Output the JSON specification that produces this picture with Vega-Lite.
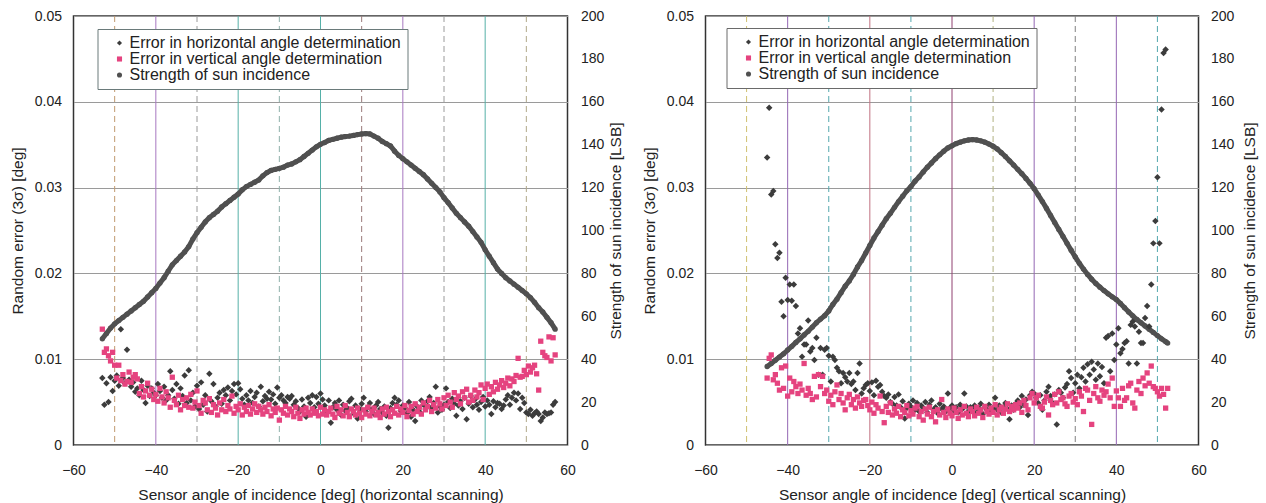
{
"$schema": "https://vega.github.io/schema/vega-lite/v6.json",
"background": "white",
"padding": {"left": 9.5, "top": 8, "right": 10.5, "bottom": 1.5},
"spacing": 16,
"config": {
 "font": "Liberation Sans",
 "view": {"stroke": "#333", "strokeWidth": 1.5},
 "axis": {"labelFont": "Liberation Sans", "labelFontSize": 14, "labelColor": "#222", "titleFont": "Liberation Sans", "titleFontSize": 15.5, "titleFontWeight": "normal", "titleColor": "#222", "ticks": false, "domain": false, "grid": false},
 "axisX": {"labelPadding": 18, "titlePadding": 10, "tickCount": 6, "labelFlush": false},
 "legend": {"orient": "none", "direction": "vertical", "title": null, "labelFont": "Liberation Sans", "labelFontSize": 16, "labelColor": "#222", "labelLimit": 400, "symbolSize": 26, "symbolStrokeWidth": 0, "rowPadding": -1.5, "padding": 6, "symbolOffset": 8, "labelOffset": 2, "fillColor": "#ffffff"}
},
"resolve": {"scale": {"color": "independent", "shape": "independent"}, "legend": {"color": "independent", "shape": "independent"}},
"datasets": {
"L": [
{"x":-53,"h":0.0078,"v":0.0135},{"x":-52.5,"h":0.0047,"v":0.0108},{"x":-52,"h":0.0072,"v":0.0112},{"x":-51.5,"h":0.005,"v":0.0104},{"x":-51,"h":0.0079,"v":0.0098},{"x":-50.5,"h":0.0063,"v":0.0108},{"x":-50,"h":0.0075,"v":0.0093},{"x":-49.5,"h":0.0081,"v":0.0078},{"x":-49,"h":0.0069,"v":0.0093},{"x":-48.5,"h":0.0135,"v":0.0075},{"x":-48,"h":0.0078,"v":0.0082},{"x":-47.5,"h":0.0072,"v":0.0071},{"x":-47,"h":0.0111,"v":0.0074},{"x":-46.5,"h":0.0076,"v":0.0085},{"x":-46,"h":0.0068,"v":0.0073},{"x":-45.5,"h":0.0073,"v":0.0079},{"x":-45,"h":0.0062,"v":0.0082},{"x":-44.5,"h":0.0066,"v":0.0077},{"x":-44,"h":0.0058,"v":0.006},{"x":-43.5,"h":0.0075,"v":0.0068},{"x":-43,"h":0.0064,"v":0.0056},{"x":-42.5,"h":0.0049,"v":0.0063},{"x":-42,"h":0.0069,"v":0.0072},{"x":-41.5,"h":0.0057,"v":0.0058},{"x":-41,"h":0.0066,"v":0.0065},{"x":-40.5,"h":0.0061,"v":0.0053},{"x":-40,"h":0.0058,"v":0.0059},{"x":-39.5,"h":0.0071,"v":0.0051},{"x":-39,"h":0.0063,"v":0.0066},{"x":-38.5,"h":0.0055,"v":0.0056},{"x":-38,"h":0.0068,"v":0.0049},{"x":-37.5,"h":0.0052,"v":0.0062},{"x":-37,"h":0.0058,"v":0.0055},{"x":-36.5,"h":0.0086,"v":0.0044},{"x":-36,"h":0.0064,"v":0.0079},{"x":-35.5,"h":0.0054,"v":0.0052},{"x":-35,"h":0.0071,"v":0.0047},{"x":-34.5,"h":0.0048,"v":0.0058},{"x":-34,"h":0.0066,"v":0.0041},{"x":-33.5,"h":0.0057,"v":0.0053},{"x":-33,"h":0.0081,"v":0.0046},{"x":-32.5,"h":0.0049,"v":0.0055},{"x":-32,"h":0.0087,"v":0.0044},{"x":-31.5,"h":0.0052,"v":0.0059},{"x":-31,"h":0.0061,"v":0.0043},{"x":-30.5,"h":0.0045,"v":0.005},{"x":-30,"h":0.0069,"v":0.0063},{"x":-29.5,"h":0.0042,"v":0.0046},{"x":-29,"h":0.0073,"v":0.0037},{"x":-28.5,"h":0.0047,"v":0.0052},{"x":-28,"h":0.0058,"v":0.0049},{"x":-27.5,"h":0.0039,"v":0.0041},{"x":-27,"h":0.0083,"v":0.0054},{"x":-26.5,"h":0.0051,"v":0.0038},{"x":-26,"h":0.0071,"v":0.0047},{"x":-25.5,"h":0.0045,"v":0.0043},{"x":-25,"h":0.0055,"v":0.0035},{"x":-24.5,"h":0.0061,"v":0.0049},{"x":-24,"h":0.0048,"v":0.0041},{"x":-23.5,"h":0.0064,"v":0.0053},{"x":-23,"h":0.0058,"v":0.0039},{"x":-22.5,"h":0.0067,"v":0.0046},{"x":-22,"h":0.0052,"v":0.0042},{"x":-21.5,"h":0.0063,"v":0.0057},{"x":-21,"h":0.0071,"v":0.0037},{"x":-20.5,"h":0.0059,"v":0.0045},{"x":-20,"h":0.0072,"v":0.0041},{"x":-19.5,"h":0.0065,"v":0.0048},{"x":-19,"h":0.0054,"v":0.0035},{"x":-18.5,"h":0.0047,"v":0.0044},{"x":-18,"h":0.0058,"v":0.0039},{"x":-17.5,"h":0.0052,"v":0.0046},{"x":-17,"h":0.0063,"v":0.0036},{"x":-16.5,"h":0.0049,"v":0.0042},{"x":-16,"h":0.0056,"v":0.0048},{"x":-15.5,"h":0.0061,"v":0.0038},{"x":-15,"h":0.0045,"v":0.0045},{"x":-14.5,"h":0.0068,"v":0.0041},{"x":-14,"h":0.0051,"v":0.0036},{"x":-13.5,"h":0.0057,"v":0.0044},{"x":-13,"h":0.0054,"v":0.0039},{"x":-12.5,"h":0.0062,"v":0.0047},{"x":-12,"h":0.0053,"v":0.0034},{"x":-11.5,"h":0.0059,"v":0.0042},{"x":-11,"h":0.0048,"v":0.0038},{"x":-10.5,"h":0.0067,"v":0.0043},{"x":-10,"h":0.0055,"v":0.0029},{"x":-9.5,"h":0.0058,"v":0.0041},{"x":-9,"h":0.0052,"v":0.0037},{"x":-8.5,"h":0.0049,"v":0.0045},{"x":-8,"h":0.0056,"v":0.0035},{"x":-7.5,"h":0.0054,"v":0.0042},{"x":-7,"h":0.0057,"v":0.0039},{"x":-6.5,"h":0.0047,"v":0.0033},{"x":-6,"h":0.0051,"v":0.0044},{"x":-5.5,"h":0.0043,"v":0.0037},{"x":-5,"h":0.0039,"v":0.0031},{"x":-4.5,"h":0.0053,"v":0.0041},{"x":-4,"h":0.0045,"v":0.0036},{"x":-3.5,"h":0.0033,"v":0.0043},{"x":-3,"h":0.0055,"v":0.0038},{"x":-2.5,"h":0.0049,"v":0.0035},{"x":-2,"h":0.0058,"v":0.0042},{"x":-1.5,"h":0.0044,"v":0.0037},{"x":-1,"h":0.0056,"v":0.0039},{"x":-0.5,"h":0.0048,"v":0.0034},{"x":0,"h":0.006,"v":0.0044},{"x":0.5,"h":0.0053,"v":0.0036},{"x":1,"h":0.0046,"v":0.0041},{"x":1.5,"h":0.0038,"v":0.0035},{"x":2,"h":0.0052,"v":0.0039},{"x":2.5,"h":0.0026,"v":0.0043},{"x":3,"h":0.0044,"v":0.0036},{"x":3.5,"h":0.0049,"v":0.0032},{"x":4,"h":0.0041,"v":0.0045},{"x":4.5,"h":0.0052,"v":0.0037},{"x":5,"h":0.0035,"v":0.0041},{"x":5.5,"h":0.0047,"v":0.0034},{"x":6,"h":0.004,"v":0.0046},{"x":6.5,"h":0.0043,"v":0.0038},{"x":7,"h":0.0051,"v":0.0033},{"x":7.5,"h":0.0054,"v":0.0042},{"x":8,"h":0.0037,"v":0.0039},{"x":8.5,"h":0.0046,"v":0.0035},{"x":9,"h":0.0031,"v":0.0043},{"x":9.5,"h":0.0042,"v":0.0037},{"x":10,"h":0.0048,"v":0.0032},{"x":10.5,"h":0.0055,"v":0.0041},{"x":11,"h":0.0039,"v":0.0036},{"x":11.5,"h":0.0044,"v":0.0044},{"x":12,"h":0.0049,"v":0.0034},{"x":12.5,"h":0.0041,"v":0.0039},{"x":13,"h":0.0036,"v":0.0043},{"x":13.5,"h":0.0046,"v":0.0035},{"x":14,"h":0.005,"v":0.0038},{"x":14.5,"h":0.0042,"v":0.0032},{"x":15,"h":0.0038,"v":0.0042},{"x":15.5,"h":0.0045,"v":0.0036},{"x":16,"h":0.0034,"v":0.0044},{"x":16.5,"h":0.002,"v":0.0039},{"x":17,"h":0.0043,"v":0.0033},{"x":17.5,"h":0.0049,"v":0.0041},{"x":18,"h":0.0055,"v":0.0037},{"x":18.5,"h":0.0047,"v":0.0045},{"x":19,"h":0.0052,"v":0.0035},{"x":19.5,"h":0.004,"v":0.0042},{"x":20,"h":0.0046,"v":0.0038},{"x":20.5,"h":0.0043,"v":0.0046},{"x":21,"h":0.0037,"v":0.0033},{"x":21.5,"h":0.005,"v":0.004},{"x":22,"h":0.0033,"v":0.0045},{"x":22.5,"h":0.0041,"v":0.0036},{"x":23,"h":0.0028,"v":0.0048},{"x":23.5,"h":0.0045,"v":0.0039},{"x":24,"h":0.0039,"v":0.0044},{"x":24.5,"h":0.0052,"v":0.0036},{"x":25,"h":0.0047,"v":0.0049},{"x":25.5,"h":0.0042,"v":0.0041},{"x":26,"h":0.0051,"v":0.0045},{"x":26.5,"h":0.0056,"v":0.0052},{"x":27,"h":0.0044,"v":0.0039},{"x":27.5,"h":0.0049,"v":0.0047},{"x":28,"h":0.0068,"v":0.0043},{"x":28.5,"h":0.0038,"v":0.0053},{"x":29,"h":0.0045,"v":0.0048},{"x":29.5,"h":0.0041,"v":0.0042},{"x":30,"h":0.0047,"v":0.0055},{"x":30.5,"h":0.0066,"v":0.0046},{"x":31,"h":0.005,"v":0.0058},{"x":31.5,"h":0.0043,"v":0.005},{"x":32,"h":0.0054,"v":0.0044},{"x":32.5,"h":0.0048,"v":0.0061},{"x":33,"h":0.0034,"v":0.0053},{"x":33.5,"h":0.0046,"v":0.0057},{"x":34,"h":0.0051,"v":0.0048},{"x":34.5,"h":0.0042,"v":0.0062},{"x":35,"h":0.0055,"v":0.0055},{"x":35.5,"h":0.003,"v":0.0065},{"x":36,"h":0.0048,"v":0.005},{"x":36.5,"h":0.0057,"v":0.0058},{"x":37,"h":0.0044,"v":0.0052},{"x":37.5,"h":0.0053,"v":0.0064},{"x":38,"h":0.0047,"v":0.0056},{"x":38.5,"h":0.0041,"v":0.0061},{"x":39,"h":0.005,"v":0.007},{"x":39.5,"h":0.0056,"v":0.0053},{"x":40,"h":0.0045,"v":0.0066},{"x":40.5,"h":0.0052,"v":0.0071},{"x":41,"h":0.0047,"v":0.0059},{"x":41.5,"h":0.0036,"v":0.0068},{"x":42,"h":0.0051,"v":0.0062},{"x":42.5,"h":0.0044,"v":0.0073},{"x":43,"h":0.0049,"v":0.0065},{"x":43.5,"h":0.0048,"v":0.007},{"x":44,"h":0.0042,"v":0.0075},{"x":44.5,"h":0.0046,"v":0.0067},{"x":45,"h":0.0053,"v":0.0072},{"x":45.5,"h":0.0058,"v":0.0078},{"x":46,"h":0.0047,"v":0.0069},{"x":46.5,"h":0.0055,"v":0.0077},{"x":47,"h":0.0061,"v":0.0074},{"x":47.5,"h":0.0052,"v":0.0081},{"x":48,"h":0.006,"v":0.0101},{"x":48.5,"h":0.0042,"v":0.0079},{"x":49,"h":0.0055,"v":0.008},{"x":49.5,"h":0.0049,"v":0.0087},{"x":50,"h":0.0038,"v":0.0082},{"x":50.5,"h":0.0036,"v":0.0092},{"x":51,"h":0.0041,"v":0.0085},{"x":51.5,"h":0.0034,"v":0.009},{"x":52,"h":0.0037,"v":0.0093},{"x":52.5,"h":0.0039,"v":0.0083},{"x":53,"h":0.0036,"v":0.0064},{"x":53.5,"h":0.0028,"v":0.0121},{"x":54,"h":0.0032,"v":0.0108},{"x":54.5,"h":0.0038,"v":0.0104},{"x":55,"h":0.0036,"v":0.0102},{"x":55.5,"h":0.0037,"v":0.0126},{"x":56,"h":0.0038,"v":0.0098},{"x":56.5,"h":0.0047,"v":0.0125},{"x":57,"h":0.005,"v":0.0105}
],
"LS": [
{"x":-53,"s":49.5},{"x":-52,"s":52},{"x":-51,"s":54.5},{"x":-50,"s":56.5},{"x":-49,"s":58},{"x":-48,"s":59.5},{"x":-47,"s":61},{"x":-46,"s":62.5},{"x":-45,"s":64},{"x":-44,"s":65.5},{"x":-43,"s":67},{"x":-42,"s":69},{"x":-41,"s":71},{"x":-40,"s":73},{"x":-39,"s":75.5},{"x":-38,"s":78},{"x":-37,"s":81},{"x":-36,"s":84},{"x":-35,"s":86},{"x":-34,"s":88},{"x":-33,"s":90},{"x":-32,"s":92.5},{"x":-31,"s":96},{"x":-30,"s":99},{"x":-29,"s":101.5},{"x":-28,"s":104},{"x":-27,"s":106},{"x":-26,"s":107.5},{"x":-25,"s":109},{"x":-24,"s":111},{"x":-23,"s":112.5},{"x":-22,"s":114},{"x":-21,"s":115.5},{"x":-20,"s":117},{"x":-19,"s":119},{"x":-18,"s":120.5},{"x":-17,"s":121.5},{"x":-16,"s":122.5},{"x":-15,"s":123.5},{"x":-14,"s":125.5},{"x":-13,"s":127},{"x":-12,"s":128},{"x":-11,"s":128.5},{"x":-10,"s":129},{"x":-9,"s":129.5},{"x":-8,"s":130.5},{"x":-7,"s":131},{"x":-6,"s":132},{"x":-5,"s":133},{"x":-4,"s":134.5},{"x":-3,"s":136},{"x":-2,"s":137.5},{"x":-1,"s":139},{"x":0,"s":140.2},{"x":1,"s":141},{"x":2,"s":142},{"x":3,"s":142.5},{"x":4,"s":143},{"x":5,"s":143.5},{"x":6,"s":143.8},{"x":7,"s":144},{"x":8,"s":144.3},{"x":9,"s":144.7},{"x":10,"s":145},{"x":11,"s":145.2},{"x":12,"s":145},{"x":13,"s":144},{"x":14,"s":143},{"x":15,"s":141.5},{"x":16,"s":140.5},{"x":17,"s":139.4},{"x":18,"s":137},{"x":19,"s":135},{"x":20,"s":133.5},{"x":21,"s":132},{"x":22,"s":130.5},{"x":23,"s":129},{"x":24,"s":127.5},{"x":25,"s":126},{"x":26,"s":124},{"x":27,"s":122},{"x":28,"s":120},{"x":29,"s":118},{"x":30,"s":115.3},{"x":31,"s":113},{"x":32,"s":110.5},{"x":33,"s":108},{"x":34,"s":106},{"x":35,"s":104},{"x":36,"s":102},{"x":37,"s":99.5},{"x":38,"s":97},{"x":39,"s":94.5},{"x":40,"s":91},{"x":41,"s":88},{"x":42,"s":85},{"x":43,"s":82},{"x":44,"s":80},{"x":45,"s":78},{"x":46,"s":76.5},{"x":47,"s":75},{"x":48,"s":73.5},{"x":49,"s":72},{"x":50,"s":70.5},{"x":51,"s":68.7},{"x":52,"s":66.5},{"x":53,"s":64},{"x":54,"s":62},{"x":55,"s":59.5},{"x":56,"s":57},{"x":57,"s":54}
],
"R": [
{"x":-45,"h":0.0335,"v":0.0078},{"x":-44.5,"h":0.0393,"v":0.0101},{"x":-44,"h":0.0292,"v":0.0105},{"x":-43.5,"h":0.0296,"v":0.0076},{"x":-43,"h":0.0234,"v":0.0082},{"x":-42.5,"h":0.0218,"v":0.0072},{"x":-42,"h":0.0224,"v":0.0064},{"x":-41.5,"h":0.0167,"v":0.009},{"x":-41,"h":0.015,"v":0.0066},{"x":-40.5,"h":0.0195,"v":0.0092},{"x":-40,"h":0.0169,"v":0.0057},{"x":-39.5,"h":0.0187,"v":0.0078},{"x":-39,"h":0.0168,"v":0.0062},{"x":-38.5,"h":0.0187,"v":0.0074},{"x":-38,"h":0.0162,"v":0.0068},{"x":-37.5,"h":0.013,"v":0.006},{"x":-37,"h":0.0136,"v":0.0071},{"x":-36.5,"h":0.0103,"v":0.0064},{"x":-36,"h":0.0117,"v":0.0095},{"x":-35.5,"h":0.0117,"v":0.0058},{"x":-35,"h":0.0145,"v":0.0066},{"x":-34.5,"h":0.0109,"v":0.006},{"x":-34,"h":0.0113,"v":0.0053},{"x":-33.5,"h":0.0099,"v":0.008},{"x":-33,"h":0.0125,"v":0.0056},{"x":-32.5,"h":0.0082,"v":0.0082},{"x":-32,"h":0.0113,"v":0.0068},{"x":-31.5,"h":0.0082,"v":0.008},{"x":-31,"h":0.0111,"v":0.006},{"x":-30.5,"h":0.0113,"v":0.0064},{"x":-30,"h":0.0104,"v":0.0051},{"x":-29.5,"h":0.0074,"v":0.0058},{"x":-29,"h":0.0103,"v":0.0047},{"x":-28.5,"h":0.0099,"v":0.0062},{"x":-28,"h":0.009,"v":0.007},{"x":-27.5,"h":0.0086,"v":0.0053},{"x":-27,"h":0.0072,"v":0.006},{"x":-26.5,"h":0.0084,"v":0.0049},{"x":-26,"h":0.0079,"v":0.0041},{"x":-25.5,"h":0.0074,"v":0.0055},{"x":-25,"h":0.0084,"v":0.0059},{"x":-24.5,"h":0.0071,"v":0.0047},{"x":-24,"h":0.0074,"v":0.0053},{"x":-23.5,"h":0.0064,"v":0.0043},{"x":-23,"h":0.0084,"v":0.0056},{"x":-22.5,"h":0.0095,"v":0.0049},{"x":-22,"h":0.006,"v":0.0045},{"x":-21.5,"h":0.0066,"v":0.0052},{"x":-21,"h":0.007,"v":0.0053},{"x":-20.5,"h":0.0072,"v":0.0046},{"x":-20,"h":0.0063,"v":0.0041},{"x":-19.5,"h":0.0073,"v":0.005},{"x":-19,"h":0.0058,"v":0.0037},{"x":-18.5,"h":0.0075,"v":0.0047},{"x":-18,"h":0.0068,"v":0.0043},{"x":-17.5,"h":0.007,"v":0.0057},{"x":-17,"h":0.0062,"v":0.0039},{"x":-16.5,"h":0.0057,"v":0.0026},{"x":-16,"h":0.0055,"v":0.0045},{"x":-15.5,"h":0.0059,"v":0.0038},{"x":-15,"h":0.005,"v":0.0049},{"x":-14.5,"h":0.0048,"v":0.0035},{"x":-14,"h":0.0056,"v":0.0042},{"x":-13.5,"h":0.0046,"v":0.0037},{"x":-13,"h":0.0059,"v":0.0045},{"x":-12.5,"h":0.0044,"v":0.0033},{"x":-12,"h":0.0051,"v":0.0041},{"x":-11.5,"h":0.0031,"v":0.0038},{"x":-11,"h":0.0043,"v":0.0046},{"x":-10.5,"h":0.0048,"v":0.0034},{"x":-10,"h":0.0045,"v":0.004},{"x":-9.5,"h":0.0052,"v":0.0036},{"x":-9,"h":0.0041,"v":0.0043},{"x":-8.5,"h":0.0049,"v":0.0045},{"x":-8,"h":0.0039,"v":0.0033},{"x":-7.5,"h":0.0046,"v":0.0039},{"x":-7,"h":0.0043,"v":0.0029},{"x":-6.5,"h":0.005,"v":0.0042},{"x":-6,"h":0.0038,"v":0.0036},{"x":-5.5,"h":0.0047,"v":0.0044},{"x":-5,"h":0.0052,"v":0.0033},{"x":-4.5,"h":0.0041,"v":0.0039},{"x":-4,"h":0.0044,"v":0.0027},{"x":-3.5,"h":0.0037,"v":0.0041},{"x":-3,"h":0.0048,"v":0.0035},{"x":-2.5,"h":0.0042,"v":0.0053},{"x":-2,"h":0.0045,"v":0.0038},{"x":-1.5,"h":0.0039,"v":0.0032},{"x":-1,"h":0.006,"v":0.0042},{"x":-0.5,"h":0.0043,"v":0.0037},{"x":0,"h":0.0046,"v":0.0034},{"x":0.5,"h":0.004,"v":0.0043},{"x":1,"h":0.0044,"v":0.0038},{"x":1.5,"h":0.0038,"v":0.0031},{"x":2,"h":0.0047,"v":0.0041},{"x":2.5,"h":0.0042,"v":0.0035},{"x":3,"h":0.006,"v":0.0045},{"x":3.5,"h":0.0045,"v":0.0037},{"x":4,"h":0.0039,"v":0.0033},{"x":4.5,"h":0.0044,"v":0.0042},{"x":5,"h":0.0041,"v":0.0039},{"x":5.5,"h":0.0046,"v":0.0034},{"x":6,"h":0.0038,"v":0.0044},{"x":6.5,"h":0.0043,"v":0.0037},{"x":7,"h":0.0048,"v":0.0041},{"x":7.5,"h":0.0036,"v":0.0032},{"x":8,"h":0.0044,"v":0.0045},{"x":8.5,"h":0.0041,"v":0.0039},{"x":9,"h":0.0047,"v":0.0036},{"x":9.5,"h":0.0039,"v":0.0043},{"x":10,"h":0.0043,"v":0.0038},{"x":10.5,"h":0.0055,"v":0.0047},{"x":11,"h":0.0041,"v":0.0035},{"x":11.5,"h":0.0046,"v":0.0041},{"x":12,"h":0.0038,"v":0.0044},{"x":12.5,"h":0.0044,"v":0.0037},{"x":13,"h":0.0049,"v":0.0042},{"x":13.5,"h":0.0042,"v":0.0048},{"x":14,"h":0.003,"v":0.0039},{"x":14.5,"h":0.0046,"v":0.0045},{"x":15,"h":0.0041,"v":0.0041},{"x":15.5,"h":0.0048,"v":0.0047},{"x":16,"h":0.0052,"v":0.0043},{"x":16.5,"h":0.0044,"v":0.0049},{"x":17,"h":0.0057,"v":0.0038},{"x":17.5,"h":0.0047,"v":0.0052},{"x":18,"h":0.0053,"v":0.0046},{"x":18.5,"h":0.0035,"v":0.0041},{"x":19,"h":0.0058,"v":0.0055},{"x":19.5,"h":0.0062,"v":0.006},{"x":20,"h":0.006,"v":0.0049},{"x":20.5,"h":0.0055,"v":0.0055},{"x":21,"h":0.0049,"v":0.0058},{"x":21.5,"h":0.0058,"v":0.0045},{"x":22,"h":0.0041,"v":0.0043},{"x":22.5,"h":0.0052,"v":0.005},{"x":23,"h":0.0062,"v":0.0056},{"x":23.5,"h":0.0068,"v":0.0035},{"x":24,"h":0.0057,"v":0.0052},{"x":24.5,"h":0.0049,"v":0.0047},{"x":25,"h":0.0059,"v":0.0059},{"x":25.5,"h":0.0024,"v":0.0049},{"x":26,"h":0.0064,"v":0.0062},{"x":26.5,"h":0.0061,"v":0.0053},{"x":27,"h":0.0055,"v":0.0055},{"x":27.5,"h":0.0067,"v":0.0048},{"x":28,"h":0.0071,"v":0.0045},{"x":28.5,"h":0.0086,"v":0.0057},{"x":29,"h":0.0078,"v":0.006},{"x":29.5,"h":0.0061,"v":0.005},{"x":30,"h":0.0072,"v":0.0054},{"x":30.5,"h":0.0082,"v":0.0047},{"x":31,"h":0.0066,"v":0.0062},{"x":31.5,"h":0.0079,"v":0.0057},{"x":32,"h":0.009,"v":0.0039},{"x":32.5,"h":0.0074,"v":0.0066},{"x":33,"h":0.0094,"v":0.0064},{"x":33.5,"h":0.0082,"v":0.0052},{"x":34,"h":0.0097,"v":0.0024},{"x":34.5,"h":0.0088,"v":0.006},{"x":35,"h":0.0076,"v":0.0068},{"x":35.5,"h":0.0095,"v":0.0055},{"x":36,"h":0.008,"v":0.0051},{"x":36.5,"h":0.0091,"v":0.0064},{"x":37,"h":0.0072,"v":0.0058},{"x":37.5,"h":0.0125,"v":0.0062},{"x":38,"h":0.0127,"v":0.0071},{"x":38.5,"h":0.0086,"v":0.0055},{"x":39,"h":0.013,"v":0.0078},{"x":39.5,"h":0.0099,"v":0.0045},{"x":40,"h":0.0117,"v":0.0063},{"x":40.5,"h":0.0136,"v":0.0055},{"x":41,"h":0.0107,"v":0.0045},{"x":41.5,"h":0.0112,"v":0.0066},{"x":42,"h":0.0119,"v":0.0052},{"x":42.5,"h":0.0121,"v":0.0055},{"x":43,"h":0.0095,"v":0.0069},{"x":43.5,"h":0.014,"v":0.0072},{"x":44,"h":0.0144,"v":0.0049},{"x":44.5,"h":0.0138,"v":0.0043},{"x":45,"h":0.0095,"v":0.0064},{"x":45.5,"h":0.0132,"v":0.0074},{"x":46,"h":0.0119,"v":0.006},{"x":46.5,"h":0.0119,"v":0.0078},{"x":47,"h":0.0148,"v":0.0069},{"x":47.5,"h":0.0162,"v":0.0084},{"x":48,"h":0.0138,"v":0.0072},{"x":48.5,"h":0.0187,"v":0.0092},{"x":49,"h":0.0235,"v":0.0068},{"x":49.5,"h":0.0261,"v":0.0066},{"x":50,"h":0.0312,"v":0.0062},{"x":50.5,"h":0.0235,"v":0.0057},{"x":51,"h":0.0391,"v":0.0066},{"x":51.5,"h":0.0457,"v":0.0059},{"x":52,"h":0.0461,"v":0.0043},{"x":52.5,"h":null,"v":0.0066}
],
"RS": [
{"x":-45,"s":36.6},{"x":-44,"s":38},{"x":-43,"s":39.5},{"x":-42,"s":41},{"x":-41,"s":42.5},{"x":-40,"s":44.3},{"x":-39,"s":46},{"x":-38,"s":47.8},{"x":-37,"s":49.5},{"x":-36,"s":51.3},{"x":-35,"s":53},{"x":-34,"s":55},{"x":-33,"s":57},{"x":-32,"s":58.7},{"x":-31,"s":60.3},{"x":-30,"s":62.5},{"x":-29,"s":65.5},{"x":-28,"s":68},{"x":-27,"s":71},{"x":-26,"s":74},{"x":-25,"s":76.5},{"x":-24,"s":79.5},{"x":-23,"s":83},{"x":-22,"s":86},{"x":-21,"s":89.5},{"x":-20,"s":93},{"x":-19,"s":96.5},{"x":-18,"s":99.5},{"x":-17,"s":102.5},{"x":-16,"s":105.5},{"x":-15,"s":108},{"x":-14,"s":110.8},{"x":-13,"s":113.5},{"x":-12,"s":116},{"x":-11,"s":118.5},{"x":-10,"s":120.5},{"x":-9,"s":123},{"x":-8,"s":125},{"x":-7,"s":127.3},{"x":-6,"s":129.5},{"x":-5,"s":131.5},{"x":-4,"s":133.5},{"x":-3,"s":135.3},{"x":-2,"s":137},{"x":-1,"s":138.5},{"x":0,"s":139.5},{"x":1,"s":140.5},{"x":2,"s":141.2},{"x":3,"s":141.8},{"x":4,"s":142.2},{"x":5,"s":142.4},{"x":6,"s":142.2},{"x":7,"s":141.8},{"x":8,"s":141.2},{"x":9,"s":140.3},{"x":10,"s":139.3},{"x":11,"s":138},{"x":12,"s":136.3},{"x":13,"s":134.5},{"x":14,"s":132.5},{"x":15,"s":130.5},{"x":16,"s":128.5},{"x":17,"s":126.5},{"x":18,"s":124.3},{"x":19,"s":122},{"x":20,"s":119.5},{"x":21,"s":116.5},{"x":22,"s":113.5},{"x":23,"s":110.3},{"x":24,"s":107},{"x":25,"s":103.7},{"x":26,"s":100.5},{"x":27,"s":97.3},{"x":28,"s":94},{"x":29,"s":90.8},{"x":30,"s":87.7},{"x":31,"s":84.7},{"x":32,"s":82},{"x":33,"s":79.5},{"x":34,"s":77.3},{"x":35,"s":75.3},{"x":36,"s":73.6},{"x":37,"s":72},{"x":38,"s":70.5},{"x":39,"s":69.1},{"x":40,"s":67.8},{"x":41,"s":66},{"x":42,"s":64},{"x":43,"s":62},{"x":44,"s":60.2},{"x":45,"s":58.5},{"x":46,"s":57},{"x":47,"s":55.5},{"x":48,"s":54},{"x":49,"s":52.5},{"x":50,"s":51},{"x":51,"s":49.5},{"x":52,"s":48.2},{"x":52.5,"s":47.5}
]
},
"hconcat": [
{
 "width": 494, "height": 429,
 "resolve": {"scale": {"y": "independent"}},
 "layer": [
  {"layer": [
   {"data": {"values": [{"x": -50}]}, "mark": {"type": "rule", "color": "#c09a70", "strokeDash": [6, 4], "strokeWidth": 1}, "encoding": {"x": {"field": "x", "type": "quantitative", "scale": {"domain": [-60, 60], "nice": false}, "title": "Sensor angle of incidence [deg] (horizontal scanning)"}}},
   {"data": {"values": [{"x": -30}, {"x": 30}]}, "mark": {"type": "rule", "color": "#9a9a9a", "strokeDash": [6, 4], "strokeWidth": 1}, "encoding": {"x": {"field": "x", "type": "quantitative", "scale": {"domain": [-60, 60], "nice": false}, "title": "Sensor angle of incidence [deg] (horizontal scanning)"}}},
   {"data": {"values": [{"x": -10}]}, "mark": {"type": "rule", "color": "#8fb0aa", "strokeDash": [6, 4], "strokeWidth": 1}, "encoding": {"x": {"field": "x", "type": "quantitative", "scale": {"domain": [-60, 60], "nice": false}, "title": "Sensor angle of incidence [deg] (horizontal scanning)"}}},
   {"data": {"values": [{"x": 10}]}, "mark": {"type": "rule", "color": "#9a7a7a", "strokeDash": [6, 4], "strokeWidth": 1}, "encoding": {"x": {"field": "x", "type": "quantitative", "scale": {"domain": [-60, 60], "nice": false}, "title": "Sensor angle of incidence [deg] (horizontal scanning)"}}},
   {"data": {"values": [{"x": 50}]}, "mark": {"type": "rule", "color": "#b0a888", "strokeDash": [6, 4], "strokeWidth": 1}, "encoding": {"x": {"field": "x", "type": "quantitative", "scale": {"domain": [-60, 60], "nice": false}, "title": "Sensor angle of incidence [deg] (horizontal scanning)"}}},
   {"data": {"values": [{"x": -40}, {"x": 20}]}, "mark": {"type": "rule", "color": "#a878c0", "strokeWidth": 1}, "encoding": {"x": {"field": "x", "type": "quantitative", "scale": {"domain": [-60, 60], "nice": false}, "title": "Sensor angle of incidence [deg] (horizontal scanning)"}}},
   {"data": {"values": [{"x": -20}, {"x": 0}, {"x": 40}]}, "mark": {"type": "rule", "color": "#55b0a8", "strokeWidth": 1}, "encoding": {"x": {"field": "x", "type": "quantitative", "scale": {"domain": [-60, 60], "nice": false}, "title": "Sensor angle of incidence [deg] (horizontal scanning)"}}},
   {"data": {"name": "LS"}, "mark": {"type": "line", "color": "#505050", "strokeWidth": 5},
    "encoding": {"x": {"field": "x", "type": "quantitative", "scale": {"domain": [-60, 60], "nice": false}, "title": "Sensor angle of incidence [deg] (horizontal scanning)"},
     "y": {"field": "s", "type": "quantitative", "scale": {"domain": [0, 200], "nice": false}, "title": "Strength of sun incidence [LSB]", "axis": {"orient": "right", "tickCount": 10, "format": "d", "labelPadding": 13, "minExtent": 28, "maxExtent": 28, "titlePadding": 13, "titleAngle": 270, "titleBaseline": "top"}}}},
   {"data": {"name": "LS"}, "transform": [{"fold": ["s"], "as": ["series", "val"]}], "mark": {"type": "point", "filled": true, "size": 28, "opacity": 1, "strokeWidth": 0},
    "encoding": {"x": {"field": "x", "type": "quantitative", "scale": {"domain": [-60, 60], "nice": false}, "title": "Sensor angle of incidence [deg] (horizontal scanning)"},
     "y": {"field": "val", "type": "quantitative", "scale": {"domain": [0, 200], "nice": false}, "title": "Strength of sun incidence [LSB]", "axis": {"orient": "right", "tickCount": 10, "format": "d", "labelPadding": 13, "minExtent": 28, "maxExtent": 28, "titlePadding": 13, "titleAngle": 270, "titleBaseline": "top"}},
     "color": {"field": "series", "type": "nominal", "scale": {"domain": ["h", "v", "s"], "range": ["#3c3c3c", "#e5437f", "#505050"]}, "legend": {"legendX": 24, "legendY": 13, "strokeColor": "#6a7a7a", "labelExpr": "datum.label == 'h' ? 'Error in horizontal angle determination' : datum.label == 'v' ? 'Error in vertical angle determination' : 'Strength of sun incidence'"}},
     "shape": {"field": "series", "type": "nominal", "scale": {"domain": ["h", "v", "s"], "range": ["diamond", "square", "circle"]}, "legend": {"legendX": 24, "legendY": 13, "strokeColor": "#6a7a7a", "labelExpr": "datum.label == 'h' ? 'Error in horizontal angle determination' : datum.label == 'v' ? 'Error in vertical angle determination' : 'Strength of sun incidence'"}}}}
  ]},
  {"layer": [
   {"data": {"name": "L"}, "transform": [{"fold": ["h"], "as": ["series", "val"]}], "mark": {"type": "point", "filled": true, "size": 42, "opacity": 1, "strokeWidth": 0},
    "encoding": {"x": {"field": "x", "type": "quantitative", "scale": {"domain": [-60, 60], "nice": false}, "title": "Sensor angle of incidence [deg] (horizontal scanning)"},
     "y": {"field": "val", "type": "quantitative", "scale": {"domain": [0, 0.05], "nice": false}, "title": "Random error (3σ) [deg]", "axis": {"orient": "left", "grid": true, "gridColor": "#9a9a9a", "gridWidth": 1, "tickCount": 5, "format": "~g", "labelPadding": 12, "minExtent": 38, "maxExtent": 38, "titlePadding": 10}},
     "color": {"field": "series", "type": "nominal", "scale": {"domain": ["h", "v", "s"], "range": ["#3c3c3c", "#e5437f", "#505050"]}, "legend": {"legendX": 24, "legendY": 13, "strokeColor": "#6a7a7a", "labelExpr": "datum.label == 'h' ? 'Error in horizontal angle determination' : datum.label == 'v' ? 'Error in vertical angle determination' : 'Strength of sun incidence'"}},
     "shape": {"field": "series", "type": "nominal", "scale": {"domain": ["h", "v", "s"], "range": ["diamond", "square", "circle"]}, "legend": {"legendX": 24, "legendY": 13, "strokeColor": "#6a7a7a", "labelExpr": "datum.label == 'h' ? 'Error in horizontal angle determination' : datum.label == 'v' ? 'Error in vertical angle determination' : 'Strength of sun incidence'"}}}},
   {"data": {"name": "L"}, "transform": [{"fold": ["v"], "as": ["series", "val"]}], "mark": {"type": "point", "filled": true, "size": 28, "opacity": 1, "strokeWidth": 0},
    "encoding": {"x": {"field": "x", "type": "quantitative", "scale": {"domain": [-60, 60], "nice": false}, "title": "Sensor angle of incidence [deg] (horizontal scanning)"},
     "y": {"field": "val", "type": "quantitative", "scale": {"domain": [0, 0.05], "nice": false}, "title": "Random error (3σ) [deg]", "axis": {"orient": "left", "grid": true, "gridColor": "#9a9a9a", "gridWidth": 1, "tickCount": 5, "format": "~g", "labelPadding": 12, "minExtent": 38, "maxExtent": 38, "titlePadding": 10}},
     "color": {"field": "series", "type": "nominal", "scale": {"domain": ["h", "v", "s"], "range": ["#3c3c3c", "#e5437f", "#505050"]}, "legend": {"legendX": 24, "legendY": 13, "strokeColor": "#6a7a7a", "labelExpr": "datum.label == 'h' ? 'Error in horizontal angle determination' : datum.label == 'v' ? 'Error in vertical angle determination' : 'Strength of sun incidence'"}},
     "shape": {"field": "series", "type": "nominal", "scale": {"domain": ["h", "v", "s"], "range": ["diamond", "square", "circle"]}, "legend": {"legendX": 24, "legendY": 13, "strokeColor": "#6a7a7a", "labelExpr": "datum.label == 'h' ? 'Error in horizontal angle determination' : datum.label == 'v' ? 'Error in vertical angle determination' : 'Strength of sun incidence'"}}}}
  ]}
 ]
},
{
 "width": 493, "height": 429,
 "resolve": {"scale": {"y": "independent"}},
 "layer": [
  {"layer": [
   {"data": {"values": [{"x": -50}]}, "mark": {"type": "rule", "color": "#d0c070", "strokeDash": [6, 4], "strokeWidth": 1}, "encoding": {"x": {"field": "x", "type": "quantitative", "scale": {"domain": [-60, 60], "nice": false}, "title": "Sensor angle of incidence [deg] (vertical scanning)"}}},
   {"data": {"values": [{"x": -30}, {"x": -10}, {"x": 50}]}, "mark": {"type": "rule", "color": "#55a8ae", "strokeDash": [6, 4], "strokeWidth": 1}, "encoding": {"x": {"field": "x", "type": "quantitative", "scale": {"domain": [-60, 60], "nice": false}, "title": "Sensor angle of incidence [deg] (vertical scanning)"}}},
   {"data": {"values": [{"x": 10}]}, "mark": {"type": "rule", "color": "#b0b080", "strokeDash": [6, 4], "strokeWidth": 1}, "encoding": {"x": {"field": "x", "type": "quantitative", "scale": {"domain": [-60, 60], "nice": false}, "title": "Sensor angle of incidence [deg] (vertical scanning)"}}},
   {"data": {"values": [{"x": 30}]}, "mark": {"type": "rule", "color": "#808080", "strokeDash": [6, 4], "strokeWidth": 1}, "encoding": {"x": {"field": "x", "type": "quantitative", "scale": {"domain": [-60, 60], "nice": false}, "title": "Sensor angle of incidence [deg] (vertical scanning)"}}},
   {"data": {"values": [{"x": -40}, {"x": 20}, {"x": 40}]}, "mark": {"type": "rule", "color": "#9466b4", "strokeWidth": 1}, "encoding": {"x": {"field": "x", "type": "quantitative", "scale": {"domain": [-60, 60], "nice": false}, "title": "Sensor angle of incidence [deg] (vertical scanning)"}}},
   {"data": {"values": [{"x": -20}]}, "mark": {"type": "rule", "color": "#c07080", "strokeWidth": 1}, "encoding": {"x": {"field": "x", "type": "quantitative", "scale": {"domain": [-60, 60], "nice": false}, "title": "Sensor angle of incidence [deg] (vertical scanning)"}}},
   {"data": {"values": [{"x": 0}]}, "mark": {"type": "rule", "color": "#904070", "strokeWidth": 1}, "encoding": {"x": {"field": "x", "type": "quantitative", "scale": {"domain": [-60, 60], "nice": false}, "title": "Sensor angle of incidence [deg] (vertical scanning)"}}},
   {"data": {"name": "RS"}, "mark": {"type": "line", "color": "#505050", "strokeWidth": 5},
    "encoding": {"x": {"field": "x", "type": "quantitative", "scale": {"domain": [-60, 60], "nice": false}, "title": "Sensor angle of incidence [deg] (vertical scanning)"},
     "y": {"field": "s", "type": "quantitative", "scale": {"domain": [0, 200], "nice": false}, "title": "Strength of sun incidence [LSB]", "axis": {"orient": "right", "tickCount": 10, "format": "d", "labelPadding": 12, "minExtent": 31, "maxExtent": 31, "titlePadding": 13, "titleAngle": 270, "titleBaseline": "top"}}}},
   {"data": {"name": "RS"}, "transform": [{"fold": ["s"], "as": ["series", "val"]}], "mark": {"type": "point", "filled": true, "size": 28, "opacity": 1, "strokeWidth": 0},
    "encoding": {"x": {"field": "x", "type": "quantitative", "scale": {"domain": [-60, 60], "nice": false}, "title": "Sensor angle of incidence [deg] (vertical scanning)"},
     "y": {"field": "val", "type": "quantitative", "scale": {"domain": [0, 200], "nice": false}, "title": "Strength of sun incidence [LSB]", "axis": {"orient": "right", "tickCount": 10, "format": "d", "labelPadding": 12, "minExtent": 31, "maxExtent": 31, "titlePadding": 13, "titleAngle": 270, "titleBaseline": "top"}},
     "color": {"field": "series", "type": "nominal", "scale": {"domain": ["h", "v", "s"], "range": ["#3c3c3c", "#e5437f", "#505050"]}, "legend": {"legendX": 21, "legendY": 12, "strokeColor": "#6a6a6a", "labelExpr": "datum.label == 'h' ? 'Error in horizontal angle determination' : datum.label == 'v' ? 'Error in vertical angle determination' : 'Strength of sun incidence'"}},
     "shape": {"field": "series", "type": "nominal", "scale": {"domain": ["h", "v", "s"], "range": ["diamond", "square", "circle"]}, "legend": {"legendX": 21, "legendY": 12, "strokeColor": "#6a6a6a", "labelExpr": "datum.label == 'h' ? 'Error in horizontal angle determination' : datum.label == 'v' ? 'Error in vertical angle determination' : 'Strength of sun incidence'"}}}}
  ]},
  {"layer": [
   {"data": {"name": "R"}, "transform": [{"fold": ["h"], "as": ["series", "val"]}], "mark": {"type": "point", "filled": true, "size": 42, "opacity": 1, "strokeWidth": 0},
    "encoding": {"x": {"field": "x", "type": "quantitative", "scale": {"domain": [-60, 60], "nice": false}, "title": "Sensor angle of incidence [deg] (vertical scanning)"},
     "y": {"field": "val", "type": "quantitative", "scale": {"domain": [0, 0.05], "nice": false}, "title": "Random error (3σ) [deg]", "axis": {"orient": "left", "grid": true, "gridColor": "#9a9a9a", "gridWidth": 1, "tickCount": 5, "format": "~g", "labelPadding": 12, "minExtent": 38, "maxExtent": 38, "titlePadding": 10}},
     "color": {"field": "series", "type": "nominal", "scale": {"domain": ["h", "v", "s"], "range": ["#3c3c3c", "#e5437f", "#505050"]}, "legend": {"legendX": 21, "legendY": 12, "strokeColor": "#6a6a6a", "labelExpr": "datum.label == 'h' ? 'Error in horizontal angle determination' : datum.label == 'v' ? 'Error in vertical angle determination' : 'Strength of sun incidence'"}},
     "shape": {"field": "series", "type": "nominal", "scale": {"domain": ["h", "v", "s"], "range": ["diamond", "square", "circle"]}, "legend": {"legendX": 21, "legendY": 12, "strokeColor": "#6a6a6a", "labelExpr": "datum.label == 'h' ? 'Error in horizontal angle determination' : datum.label == 'v' ? 'Error in vertical angle determination' : 'Strength of sun incidence'"}}}},
   {"data": {"name": "R"}, "transform": [{"fold": ["v"], "as": ["series", "val"]}], "mark": {"type": "point", "filled": true, "size": 28, "opacity": 1, "strokeWidth": 0},
    "encoding": {"x": {"field": "x", "type": "quantitative", "scale": {"domain": [-60, 60], "nice": false}, "title": "Sensor angle of incidence [deg] (vertical scanning)"},
     "y": {"field": "val", "type": "quantitative", "scale": {"domain": [0, 0.05], "nice": false}, "title": "Random error (3σ) [deg]", "axis": {"orient": "left", "grid": true, "gridColor": "#9a9a9a", "gridWidth": 1, "tickCount": 5, "format": "~g", "labelPadding": 12, "minExtent": 38, "maxExtent": 38, "titlePadding": 10}},
     "color": {"field": "series", "type": "nominal", "scale": {"domain": ["h", "v", "s"], "range": ["#3c3c3c", "#e5437f", "#505050"]}, "legend": {"legendX": 21, "legendY": 12, "strokeColor": "#6a6a6a", "labelExpr": "datum.label == 'h' ? 'Error in horizontal angle determination' : datum.label == 'v' ? 'Error in vertical angle determination' : 'Strength of sun incidence'"}},
     "shape": {"field": "series", "type": "nominal", "scale": {"domain": ["h", "v", "s"], "range": ["diamond", "square", "circle"]}, "legend": {"legendX": 21, "legendY": 12, "strokeColor": "#6a6a6a", "labelExpr": "datum.label == 'h' ? 'Error in horizontal angle determination' : datum.label == 'v' ? 'Error in vertical angle determination' : 'Strength of sun incidence'"}}}}
  ]}
 ]
}
]
}
